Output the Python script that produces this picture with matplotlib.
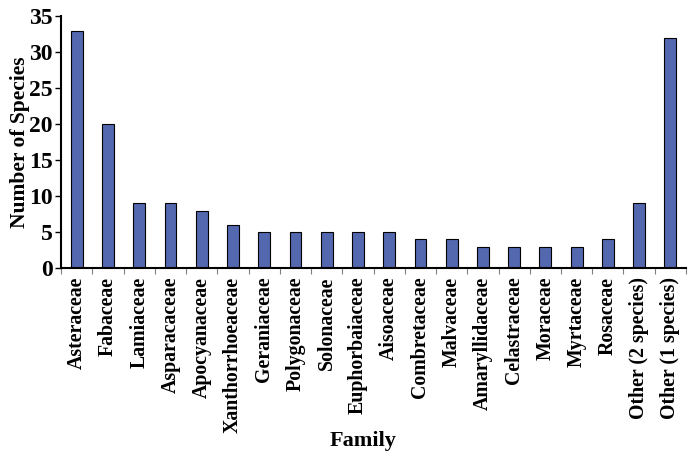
import matplotlib
matplotlib.use("Agg")
import matplotlib.pyplot as plt
import numpy as np

families = [
    "Asteraceae", "Fabaceae", "Lamiaceae", "Asparacaceae", "Apocyanaceae",
    "Xanthorrhoeaceae", "Geraniaceae", "Polygonaceae", "Solonaceae",
    "Euphorbaiaceae", "Aisoaceae", "Combretaceae", "Malvaceae",
    "Amaryllidaceae", "Celastraceae", "Moraceae", "Myrtaceae", "Rosaceae",
    "Other (2 species)", "Other (1 species)",
]
species = [33, 20, 9, 9, 8, 6, 5, 5, 5, 5, 5, 4, 4, 3, 3, 3, 3, 4, 9, 32]

plt.rcParams["font.family"] = ["Liberation Serif", "DejaVu Serif"]
plt.rcParams["font.weight"] = "bold"

fig, ax = plt.subplots(figsize=(6.88, 4.61), dpi=100)
fig.subplots_adjust(left=0.089, right=0.997, top=0.965, bottom=0.418)

x = np.arange(len(families))
ax.bar(x, species, width=0.38, color="#5468b0", edgecolor="black", linewidth=0.8)

ax.set_xlim(-0.5, len(families) - 0.5)
ax.set_ylim(0, 35)
ax.set_yticks(range(0, 36, 5))
ax.tick_params(axis="y", labelsize=17, length=4, width=1, direction="out", pad=2)
ax.set_xticks(x)
ax.set_xticklabels(families, rotation=90, fontsize=14.3, fontweight="bold")
ax.tick_params(axis="x", length=0, pad=6)
ax.set_xticks(np.arange(-0.5, len(families), 1), minor=True)
ax.tick_params(axis="x", which="minor", length=4, width=0.8, color="gray")

for s in ["top", "right"]:
    ax.spines[s].set_visible(False)
ax.spines["left"].set_linewidth(1.5)
ax.spines["bottom"].set_linewidth(1.5)

ax.set_ylabel("Number of Species", fontsize=15.5, fontweight="bold")
ax.set_xlabel("Family", fontsize=16, fontweight="bold")
ax.yaxis.set_label_coords(-0.05, 0.5)
ax.xaxis.set_label_coords(0.483, -0.645)

fig.savefig("out.png", dpi=100)
